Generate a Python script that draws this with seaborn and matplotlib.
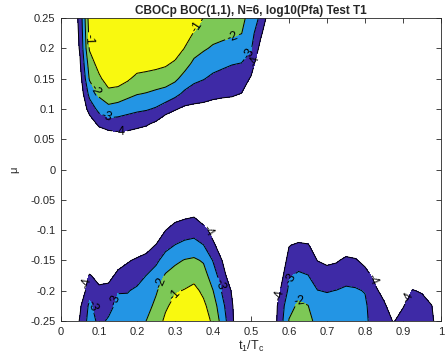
import matplotlib
matplotlib.use("Agg")
import matplotlib.pyplot as plt
import numpy as np
import seaborn as sns

# grid the log10(Pfa) values were read on
T_RATIO = [0.0, 0.025, 0.05, 0.075, 0.1, 0.125, 0.15, 0.175, 0.2, 0.225,
           0.25, 0.275, 0.3, 0.325, 0.35, 0.375, 0.4, 0.425, 0.45, 0.475,
           0.5, 0.525, 0.55, 0.575, 0.6, 0.625, 0.65, 0.675, 0.7, 0.725,
           0.75, 0.775, 0.8, 0.825, 0.85, 0.875, 0.9, 0.925, 0.95, 0.975, 1.0]
MU = [0.25, 0.225, 0.2, 0.175, 0.15, 0.125, 0.1, 0.075, 0.05, 0.025, 0.0,
      -0.025, -0.05, -0.075, -0.1, -0.125, -0.15, -0.175, -0.2, -0.225, -0.25]

# "." = below the lowest drawn level
FLOOR = -5.0
LOG_PFA_ROWS = [
    ". . -3.7 -0.5 0 0 0 0 0 0 0 0 0 -0.3 -0.5 -1.02 -1.3 -1.4 -1.6 -1.8 -2.3 -3.2 -4.6 . . . . . . . . . . . . . . . . . .",
    ". . -3.8 -0.7 0 0 0 0 0 0 0 -0.1 -0.15 -0.6 -1.05 -1.45 -1.7 -1.75 -1.85 -1.98 -2.6 -3.8 -4.9 . . . . . . . . . . . . . . . . . .",
    ". . -3.9 -0.9 -0.3 0 0 0 -0.2 -0.25 -0.3 -0.4 -0.45 -1.02 -1.6 -1.9 -2.1 -2.25 -2.4 -2.5 -2.9 -4.3 . . . . . . . . . . . . . . . . . . .",
    ". . -4.1 -1.5 -0.6 -0.2 -0.2 -0.3 -0.5 -0.6 -0.7 -0.85 -1.15 -1.6 -2.2 -2.4 -2.65 -2.8 -2.95 -3.02 -3.5 -4.8 . . . . . . . . . . . . . . . . . . .",
    ". . -4.4 -1.9 -1.2 -0.5 -0.55 -0.85 -1.27 -1.35 -1.45 -1.55 -1.8 -2.35 -2.75 -2.95 -3.2 -3.35 -3.45 -3.5 -4.1 . . . . . . . . . . . . . . . . . . . .",
    ". . -4.7 -2.7 -1.8 -1.3 -1.4 -1.7 -1.95 -2.05 -2.2 -2.35 -2.7 -3.2 -3.5 -3.6 -3.75 -3.85 -3.9 -4.02 -4.7 . . . . . . . . . . . . . . . . . . . .",
    ". . . -3.6 -2.7 -2.3 -2.45 -2.65 -2.8 -2.9 -3.1 -3.5 -3.9 -4.2 -4.25 -4.3 -4.4 -4.4 -4.4 -4.5 . . . . . . . . . . . . . . . . . . . . .",
    ". . . -4.6 -3.8 -3.5 -3.5 -3.6 -3.75 -3.9 -4.2 -4.8 . . . . . . . . . . . . . . . . . . . . . . . . . . . . .",
    ". . . . -4.9 -4.7 -4.5 -4.5 -4.6 -4.7 -4.9 . . . . . . . . . . . . . . . . . . . . . . . . . . . . . .",
    ". . . . . . . . . . . . . . . . . . . . . . . . . . . . . . . . . . . . . . . . .",
    ". . . . . . . . . . . . . . . . . . . . . . . . . . . . . . . . . . . . . . . . .",
    ". . . . . . . . . . . . . . . . . . . . . . . . . . . . . . . . . . . . . . . . .",
    ". . . . . . . . . . . . . . . . . . . . . . . . . . . . . . . . . . . . . . . . .",
    ". . . . . . . . . . . . -4.4 -4.2 -4.1 -4.6 . . . . . . . . . . . . . . . . . . . . . . . . .",
    ". . . . . . . . . . -4.9 -4.02 -3.6 -3.5 -3.4 -3.7 -4.4 . . . . . . . . -4.9 . . . . . . . . . . . . . . .",
    ". . . . . . . . -4.7 -4.4 -3.95 -3.3 -2.98 -2.75 -2.65 -2.98 -3.8 -4.6 . . . . . . -4.05 -3.8 -3.9 -4.7 . -4.9 -4.6 -4.7 . . . . . . . . .",
    ". . . . . . -4.5 -4.1 -3.85 -3.65 -3.2 -2.6 -2.2 -1.95 -1.85 -2.1 -3.05 -4.05 . . . . . . -3.6 -3.4 -3.5 -4.02 -4.2 -4.1 -3.8 -3.9 -4.3 -4.8 . . . . . . .",
    ". . . -3.9 -4.4 -4.4 -3.7 -3.55 -3.35 -2.98 -2.6 -1.9 -1.6 -1.45 -1.3 -1.6 -2.5 -3.6 -4.7 . . . . -4.6 -3.1 -2.85 -2.98 -3.5 -3.6 -3.5 -3.35 -3.4 -3.6 -4.25 -4.8 . . -4.7 -4.8 . .",
    ". . -4.8 -3.4 -3.75 -3.6 -3.05 -3.05 -2.85 -2.6 -2.1 -1.5 -1.1 -0.95 -0.75 -1.2 -1.98 -3.15 -4.1 . . . . -4.1 -2.8 -2.3 -2.5 -2.98 -3.05 -2.98 -2.85 -2.9 -3.05 -3.8 -4.3 . -4.6 -3.95 -4.1 -4.7 .",
    ". . -4.15 -2.8 -3.5 -3.25 -2.8 -2.75 -2.6 -2.3 -1.8 -1.15 -0.7 -0.6 -0.5 -0.8 -1.5 -2.75 -3.9 . . . . -3.7 -2.3 -1.85 -1.98 -2.6 -2.65 -2.6 -2.55 -2.6 -2.8 -3.7 -3.85 -4.5 -4.05 -3.6 -3.6 -3.95 .",
    ". . -3.9 -2.6 -3.2 -2.9 -2.6 -2.5 -2.35 -1.98 -1.5 -0.8 -0.4 -0.3 -0.3 -0.6 -1.15 -2.45 -3.8 . . . . -3.6 -1.95 -1.6 -1.7 -2.3 -2.4 -2.4 -2.35 -2.4 -2.7 -3.6 -3.6 -4.05 -3.7 -3.4 -3.4 -3.7 .",
]

LEVELS = [-4, -3, -2, -1]
FILL_COLORS = ["#3E2AA6", "#2395E4", "#7DC856", "#F9F90F"]

# spots where the contour labels sit (t1/Tc, mu)
LABEL_SPOTS = [
    (0.071, 0.214), (0.358, 0.235), (0.084, 0.128), (0.45, 0.219),
    (0.116, 0.082), (0.489, 0.194), (0.155, 0.062), (0.51, 0.18),
    (0.068, -0.187), (0.384, -0.103), (0.084, -0.224), (0.142, -0.215),
    (0.418, -0.19), (0.266, -0.187), (0.3, -0.207),
    (0.571, -0.207), (0.818, -0.182), (0.608, -0.182), (0.629, -0.215),
    (0.911, -0.21),
]


def main():
    z = np.array([[FLOOR if v == "." else float(v) for v in row.split()]
                  for row in LOG_PFA_ROWS])
    t = np.array(T_RATIO)
    mu = np.array(MU)[::-1]
    z = z[::-1]

    sns.set_theme(style="ticks")
    plt.rcParams["font.family"] = ["Liberation Sans", "DejaVu Sans"]
    plt.rcParams["mathtext.default"] = "regular"
    plt.rcParams["contour.negative_linestyle"] = "solid"

    fig = plt.figure(figsize=(4.47, 3.63), dpi=100)
    ax = fig.add_axes([61 / 447, 42 / 363, 380 / 447, 303 / 363])

    palette = sns.color_palette(FILL_COLORS)
    ax.contourf(t, mu, z, levels=LEVELS + [1], colors=palette)
    cs = ax.contour(t, mu, z, levels=LEVELS, colors="black", linewidths=0.7,
                    linestyles="solid")
    ax.clabel(cs, fmt="%d", fontsize=9, manual=LABEL_SPOTS, inline=True,
              inline_spacing=2)

    ax.set_xlim(0, 1)
    ax.set_ylim(-0.25, 0.25)
    xt = [0, 0.1, 0.2, 0.3, 0.4, 0.5, 0.6, 0.7, 0.8, 0.9, 1]
    yt = [-0.25, -0.2, -0.15, -0.1, -0.05, 0, 0.05, 0.1, 0.15, 0.2, 0.25]
    ax.set_xticks(xt)
    ax.set_xticklabels([f"{v:g}" for v in xt])
    ax.set_yticks(yt)
    ax.set_yticklabels([f"{v:g}" for v in yt])
    ax.tick_params(direction="in", top=True, right=True, length=3.5,
                   width=0.6, labelsize=8, colors="#262626", pad=4)
    for s in ax.spines.values():
        s.set_linewidth(0.6)
        s.set_color("#262626")

    ax.set_title("CBOCp BOC(1,1), N=6, log10(Pfa) Test T1", fontsize=8.5,
                 fontweight="bold", pad=3)
    ax.set_xlabel("t$_1$/T$_c$", fontsize=9, labelpad=2)
    ax.set_ylabel("μ", fontsize=8, labelpad=8)

    fig.savefig("out.png", dpi=100)


if __name__ == "__main__":
    main()
